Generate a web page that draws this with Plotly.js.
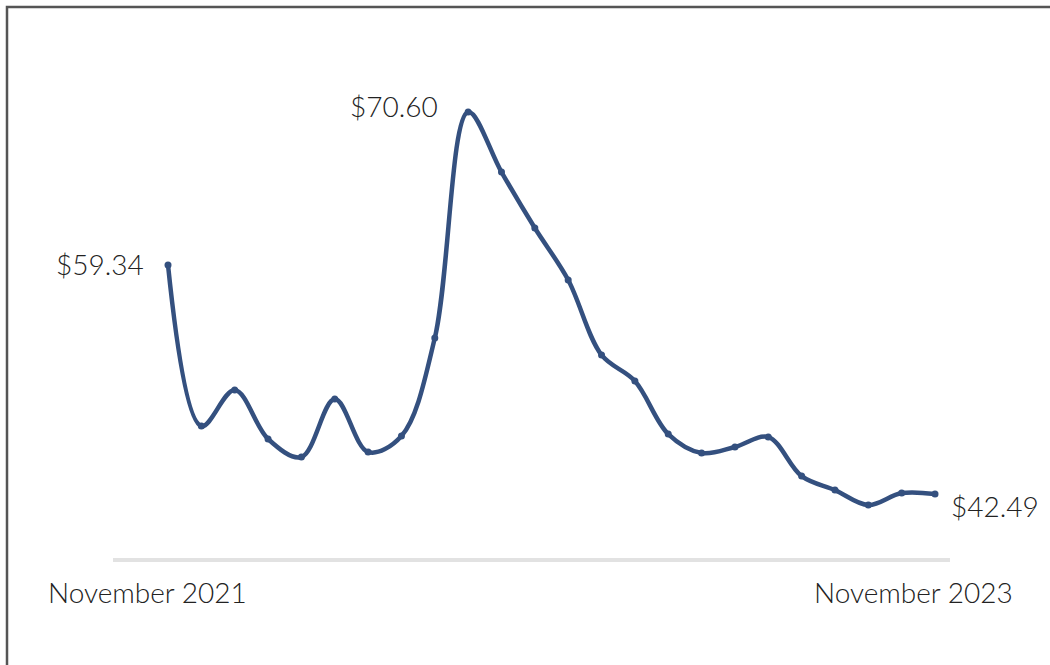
<!DOCTYPE html>
<html>
<head>
<meta charset="utf-8">
<script src="https://cdn.plot.ly/plotly-3.0.1.min.js"></script>
<style>
  html, body { margin: 0; padding: 0; background: #ffffff; }
  #chart { width: 1050px; height: 665px; }
</style>
</head>
<body>
<div id="chart"></div>
<script>
// Monthly price series
const months = [
  "2021-11", "2021-12", "2022-01", "2022-02", "2022-03", "2022-04",
  "2022-05", "2022-06", "2022-07", "2022-08", "2022-09", "2022-10",
  "2022-11", "2022-12", "2023-01", "2023-02", "2023-03", "2023-04",
  "2023-05", "2023-06", "2023-07", "2023-08", "2023-09", "2023-10"
];
const prices = [
  59.34, 47.49, 50.14, 46.54, 45.21, 49.48,
  45.58, 46.76, 53.97, 70.60, 66.18, 62.06,
  58.24, 52.72, 50.80, 46.90, 45.51, 45.95,
  46.68, 43.81, 42.78, 41.68, 42.56, 42.49
];
const endLabels = ["November 2021", "November 2023"];

const fmt = v => "$" + v.toFixed(2);
const peakIdx = prices.indexOf(Math.max(...prices));
const lastIdx = prices.length - 1;

const lineColor = "#34507f";
const textFont = { family: "Lato, 'Open Sans', sans-serif", size: 28, color: "#222222", weight: 300 };

const trace = {
  x: months,
  y: prices,
  type: "scatter",
  mode: "lines+markers",
  line: { color: lineColor, width: 4.5, shape: "spline", smoothing: 1 },
  marker: { color: lineColor, size: 7 },
  hoverinfo: "skip"
};

const fx = 7 / 1050, fy = 1 - 7 / 665;

const layout = {
  width: 1050,
  height: 665,
  margin: { l: 0, r: 0, t: 0, b: 0 },
  paper_bgcolor: "#ffffff",
  plot_bgcolor: "#ffffff",
  showlegend: false,
  xaxis: {
    type: "category",
    range: [-5.038, 26.448],
    visible: false,
    fixedrange: true
  },
  yaxis: {
    range: [29.91, 78.84],
    visible: false,
    fixedrange: true
  },
  shapes: [
    // frame (top and left edges only visible)
    { type: "path", xref: "paper", yref: "paper",
      path: `M ${fx} -0.05 L ${fx} ${fy} L 1.05 ${fy}`,
      line: { color: "#555555", width: 2.5 }, layer: "below" },
    // baseline
    { type: "line", xref: "paper", yref: "paper",
      x0: 113 / 1050, x1: 950 / 1050, y0: 1 - 560 / 665, y1: 1 - 560 / 665,
      line: { color: "#e2e2e2", width: 4 }, layer: "below" }
  ],
  annotations: [
    { x: months[0], y: prices[0], xref: "x", yref: "y", text: fmt(prices[0]),
      showarrow: false, xanchor: "right", yanchor: "middle", xshift: -22, yshift: 1, font: textFont },
    { x: months[peakIdx], y: prices[peakIdx], xref: "x", yref: "y", text: fmt(prices[peakIdx]),
      showarrow: false, xanchor: "right", yanchor: "middle", xshift: -28, yshift: 6, font: textFont },
    { x: months[lastIdx], y: prices[lastIdx], xref: "x", yref: "y", text: fmt(prices[lastIdx]),
      showarrow: false, xanchor: "left", yanchor: "middle", xshift: 14, yshift: -12, font: textFont },
    { x: 147 / 1050, y: 1 - 592 / 665, xref: "paper", yref: "paper", text: endLabels[0],
      showarrow: false, xanchor: "center", yanchor: "middle", font: textFont },
    { x: 913 / 1050, y: 1 - 592 / 665, xref: "paper", yref: "paper", text: endLabels[1],
      showarrow: false, xanchor: "center", yanchor: "middle", font: textFont }
  ]
};

Plotly.newPlot("chart", [trace], layout, { displayModeBar: false, staticPlot: true });
</script>
</body>
</html>
